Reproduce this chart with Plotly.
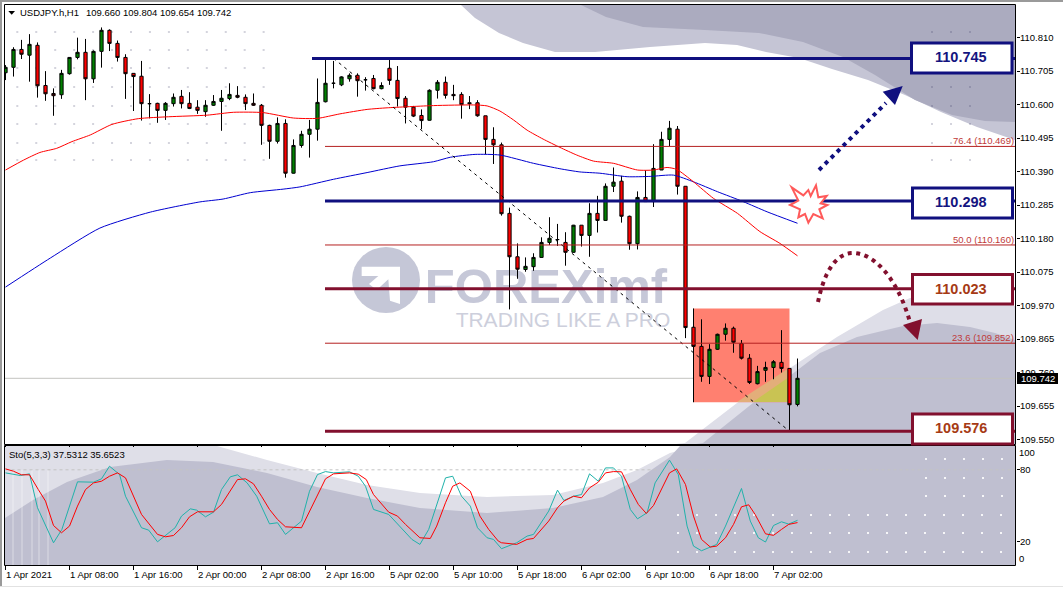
import plotly.graph_objects as go

W, H = 1063, 601
PL, PR, PT, PB = 4, 1016, 4, 565
FONT = "Liberation Sans"

# ---------- data ----------
opens = [110.700,110.717,110.773,110.755,110.786,110.660,110.635,110.631,110.697,110.748,
         110.764,110.681,110.767,110.833,110.792,110.748,110.698,110.689,110.603,110.604,
         110.582,110.603,110.626,110.604,110.592,110.578,110.598,110.610,110.619,110.629,
         110.623,110.604,110.598,110.535,110.485,110.541,110.385,110.472,110.507,110.523,
         110.609,110.667,110.662,110.681,110.692,110.678,110.682,110.650,110.714,110.676,
         110.620,110.592,110.566,110.551,110.645,110.670,110.632,110.632,110.606,110.606,
         110.565,110.491,110.474,110.259,110.123,110.083,110.092,110.121,110.168,110.177,
         110.168,110.137,110.222,110.190,110.259,110.237,110.344,110.360,110.250,110.164,
         110.309,110.296,110.395,110.491,110.523,110.344,109.902,109.842,109.748,109.833,
         109.880,109.899,109.851,109.805,109.725,109.767,109.776,109.792,109.773,109.660]
highs = [110.724,110.780,110.803,110.821,110.795,110.705,110.651,110.709,110.749,110.810,
         110.806,110.770,110.842,110.836,110.801,110.758,110.698,110.737,110.633,110.606,
         110.608,110.635,110.646,110.639,110.614,110.614,110.630,110.646,110.667,110.658,
         110.632,110.635,110.602,110.537,110.560,110.554,110.491,110.518,110.552,110.682,
         110.741,110.737,110.689,110.698,110.698,110.686,110.693,110.670,110.748,110.721,
         110.627,110.596,110.585,110.648,110.677,110.688,110.662,110.639,110.627,110.614,
         110.565,110.529,110.481,110.277,110.165,110.121,110.134,110.184,110.247,110.226,
         110.200,110.223,110.222,110.291,110.314,110.353,110.403,110.377,110.252,110.328,
         110.394,110.476,110.515,110.549,110.533,110.344,109.961,109.927,109.849,109.882,
         109.914,109.904,109.862,109.818,109.781,109.794,109.799,109.893,109.773,109.804]
lows = [110.677,110.688,110.743,110.672,110.622,110.612,110.565,110.618,110.694,110.742,
        110.614,110.668,110.716,110.768,110.735,110.618,110.580,110.550,110.557,110.543,
        110.552,110.594,110.588,110.586,110.571,110.562,110.596,110.518,110.614,110.620,
        110.583,110.596,110.474,110.430,110.478,110.371,110.384,110.465,110.434,110.487,
        110.607,110.651,110.658,110.672,110.625,110.644,110.648,110.648,110.662,110.594,
        110.541,110.561,110.523,110.550,110.619,110.619,110.614,110.556,110.586,110.562,
        110.445,110.414,110.252,109.958,110.054,110.076,110.079,110.120,110.160,110.157,
        110.095,110.136,110.155,110.123,110.199,110.236,110.326,110.230,110.145,110.146,
        110.295,110.279,110.395,110.470,110.318,109.868,109.667,109.731,109.724,109.831,
        109.860,109.822,109.801,109.724,109.723,109.731,109.739,109.760,109.576,109.654]
closes = [110.717,110.773,110.758,110.789,110.659,110.634,110.628,110.698,110.748,110.764,
          110.681,110.767,110.833,110.792,110.748,110.697,110.688,110.603,110.603,110.582,
          110.604,110.623,110.603,110.588,110.582,110.598,110.610,110.620,110.632,110.623,
          110.603,110.598,110.535,110.485,110.541,110.385,110.472,110.507,110.523,110.607,
          110.667,110.667,110.687,110.692,110.675,110.678,110.650,110.660,110.676,110.619,
          110.592,110.564,110.550,110.645,110.670,110.629,110.628,110.600,110.603,110.565,
          110.491,110.474,110.258,110.123,110.084,110.093,110.121,110.168,110.181,110.177,
          110.137,110.222,110.190,110.259,110.237,110.344,110.357,110.250,110.164,110.309,
          110.296,110.400,110.491,110.526,110.344,109.901,109.842,109.748,109.833,109.880,
          109.899,109.855,109.805,109.729,109.763,109.776,109.794,109.773,109.659,109.742]
bars = list(range(100))

ma_red_bar = [0,2.25,4.3,6.4,8.3,10.6,13.3,16.6,20.4,25.2,28.5,32.2,36,39,41.8,45.2,47.7,53.5,58.5,60.2,
              61.8,63.5,65.2,67.2,69.3,71.4,73.5,76,79,81,82.7,83.9,86,88.5,91.5,94.3,96.8,99]
ma_red_val = [110.395,110.426,110.450,110.463,110.484,110.505,110.538,110.556,110.562,110.567,110.576,
              110.575,110.558,110.557,110.571,110.585,110.590,110.597,110.599,110.596,110.580,110.552,
              110.520,110.492,110.466,110.442,110.423,110.416,110.395,110.395,110.403,110.397,110.358,
              110.306,110.259,110.202,110.165,110.126]
ma_blue_bar = [0,5.6,11.8,18.1,24.3,27.2,30.6,34.7,36.8,41,45.2,49.3,53.5,55.6,58.7,61.8,66,69.3,71.8,
               74.3,77.7,80.6,83.5,86,89,92.2,95.2,99]
ma_blue_val = [110.028,110.119,110.213,110.263,110.295,110.304,110.324,110.335,110.342,110.366,110.387,
               110.408,110.421,110.435,110.444,110.442,110.416,110.399,110.389,110.385,110.374,110.375,
               110.379,110.358,110.327,110.296,110.264,110.228]

sto_k_bar = [0,1.84,3,4,6,7.05,9,11,12,13,14.26,15,17,17.9,19,21.2,22,23.1,23.9,25,26,27,28.1,29,30.2,31.4,
             33,34,35,37,38,39,40,41,43,44.1,45,46,47.9,49.3,50.8,51.8,52.9,55,55.9,57,58.1,59,60.2,61,
             62,63.9,65.2,66,67.9,69,69.8,71,72,73,74.1,75,76,77,78.1,79,80.2,81.2,83,84.1,85.2,86,87,
             88.9,90,92,93.1,94.1,95,96,97,97.9,99]
sto_k_val = [77.4,75.2,76.6,48.1,18.7,29.9,69.9,69.6,72.4,83.0,76.0,57.8,31.3,29.3,19.5,31.3,41.1,47.2,46.1,
             40.5,44.4,63.4,74.1,75.8,69.0,57.8,34.6,35.5,25.7,36.9,62.0,76.0,78.5,77.4,78.3,74.6,66.2,46.7,
             42.5,32.7,21.5,17.3,29.9,73.2,74.6,57.8,49.5,31.3,22.9,21.5,13.7,18.7,24.3,25.7,45.3,62.9,54.2,
             57.8,59.2,76.6,70.4,81.6,81.6,74.6,46.7,38.8,43.9,69.0,88.1,76.0,32.7,15.9,12.0,17.3,32.7,64.3,
             36.9,22.9,19.3,33.2,36.3,34.4,37.53]
sto_d_bar = [0,1,2,3,4.1,5,6,7,8,9,10,11,12,13,14,15,17,19,20,21,22,23,24,26,27,29,30,31,32,33,34,35,37,38,
             39,40,41,43,44.1,45.1,46,47.9,49,50,51.8,53.1,53.9,55,55.9,56.8,58.1,59.3,60.4,61.6,62,63.9,65.2,
             66,67.9,69,69.8,71,72,73,74.1,75,76,77,78.1,79.1,80.1,81,83,83.9,85,86,87,88.1,88.9,90,91,92,92.9,
             93.7,95,96,97,97.9,99]
sto_d_val = [80.8,78.8,75.8,75.8,63.4,53.7,33.2,27.1,32.7,49.5,63.4,69.0,70.4,74.6,77.4,73.2,42.5,25.7,23.7,
             24.8,31.3,40.5,44.7,44.7,50.9,71.8,72.4,68.2,57.8,46.7,38.3,32.1,31.3,45.3,59.2,72.4,76.6,77.4,
             76.3,71.8,59.2,44.4,41.1,34.1,22.9,22.3,32.7,52.3,66.2,69.0,62.0,41.1,29.9,20.1,18.7,17.3,21.5,
             22.3,36.9,48.1,53.7,57.8,56.5,64.8,69.6,77.4,78.5,78.3,63.4,50.9,43.3,50.0,77.4,80.8,67.6,41.1,
             21.5,15.1,15.9,22.9,34.1,48.9,50.6,42.5,26.2,24.9,29.9,34.1,35.65]

price_ticks = [110.810,110.705,110.600,110.495,110.390,110.285,110.180,110.075,109.970,109.865,109.760,109.655,109.550]
time_tick_bars = [0,8,16,24,32,40,48,56,64,72,80,88,96]
time_tick_labels = ["1 Apr 2021","1 Apr 08:00","1 Apr 16:00","2 Apr 00:00","2 Apr 08:00","2 Apr 16:00",
                    "5 Apr 02:00","5 Apr 10:00","5 Apr 18:00","6 Apr 02:00","6 Apr 10:00","6 Apr 18:00","7 Apr 02:00"]
fib_levels = [110.469,110.160,109.852]
fib_labels = ["76.4 (110.469)","50.0 (110.160)","23.6 (109.852)"]
navy_levels = [110.745,110.298]
maroon_levels = [110.023,109.576]
last_price = 109.742

NAVY = "#10107F"
MAROON = "#82102E"
MAROON_TXT = "#A63A14"
FIB = "#B52020"
TXT = 9.5

# ---------- pixel helpers for decoration ----------
def xp(px): return (px - PL) / (PR - PL)
def yp(py): return 1 - (py - PT) / (PB - PT)
def path(pts, close=True):
    s = "M" + " L".join(f"{xp(x):.5f},{yp(y):.5f}" for x, y in pts)
    return s + (" Z" if close else "")
def poly(pts, fill, layer="below", line=None, lw=0):
    return dict(type="path", xref="paper", yref="paper", path=path(pts), fillcolor=fill, layer=layer,
                line=dict(color=line or fill, width=lw))
def poly_axis(pts, fill):
    s = "M" + " L".join(f"{(x-5.5)/8:.4f},{110.928-0.003135*y:.4f}" for x, y in pts) + " Z"
    return dict(type="path", xref="x", yref="y", path=s, fillcolor=fill, layer="below", line=dict(width=0))
def rect(x0, y0, x1, y1, **kw):
    return dict(type="rect", xref="paper", yref="paper", x0=xp(x0), x1=xp(x1), y0=yp(y1), y1=yp(y0), **kw)
def hline(x0, x1, y, color, w, layer="above"):
    return dict(type="line", xref="paper", yref="paper", x0=xp(x0), x1=xp(x1), y0=yp(y), y1=yp(y),
                line=dict(color=color, width=w), layer=layer)
def dots(xs, ys, color, s=1.0):
    p = ""
    for x in xs:
        for y in ys:
            p += path([(x-s, y-s), (x+s, y-s), (x+s, y+s), (x-s, y+s)]) + " "
    return dict(type="path", xref="paper", yref="paper", path=p, fillcolor=color, line=dict(width=0), layer="below")

M_L, M_R, M_T, M_B = 5, 1015, 5, 444
S_T, S_B = 446, 565

shapes = []
# main-pane background swooshes
shapes.append(poly([(461,5),(475,18),(499,33),(523,43),(555,52),(595,52),(650,47),(705,43),(737,45),(766,52),
                    (799,58),(832,69),(868,80),(905,95),(941,112),(977,127),(M_R,140),(M_R,M_T)], "#C5C5D5"))
shapes.append(poly([(581,5),(606,17),(643,27),(705,30),(759,33),(803,42),(843,57),(875,75),(915,100),(952,115),
                    (985,121),(M_R,122),(M_R,M_T)], "#ABABBF"))
shapes.append(poly([(676,M_B),(685,443),(737,403),(787,370),(837,337),(883,310),(910,298),(950,295),(985,298),
                    (M_R,306),(M_R,M_B)], "#DEDEE8"))
shapes.append(poly([(696,M_B),(703,443),(753,403),(787,378),(820,353),(857,337),(903,326),(937,323),(970,327),
                    (995,333),(M_R,340),(M_R,M_B)], "#BFBFD0"))
# sub-pane background swooshes
shapes.append(poly([(5,S_T),(217,S_T),(267,460),(317,473),(367,485),(420,493),(487,497),(553,495),(603,483),
                    (637,470),(670,453),(697,S_T),(M_R,S_T),(M_R,S_B),(5,S_B)], "#DFDFE8"))
shapes.append(poly([(5,518),(33,500),(67,482),(110,467),(167,460),(213,462),(267,473),(317,487),(367,498),
                    (420,508),(487,513),(553,508),(603,497),(637,480),(670,457),(680,S_T),(M_R,S_T),(M_R,S_B),(5,S_B)], "#BFBFD0"))
for sx in (13, 22, 32, 39, 48):
    shapes.append(dict(type="line", xref="paper", yref="paper", x0=xp(sx), x1=xp(sx), y0=yp(470), y1=yp(S_B),
                       line=dict(color="rgba(255,255,255,0.45)", width=1), layer="below"))
# textured dots
rows = [32,50,68,87,106,124,143,160]
shapes.append(dots([17.3+18.95*k for k in range(14)], rows, "rgba(60,60,100,0.22)"))
shapes.append(dots([932,951,970], rows, "rgba(60,60,100,0.22)"))
shapes.append(dots([926+19*k for k in range(5)], [459,478,496], "rgba(255,255,255,0.85)"))
shapes.append(dots([678+19*k for k in range(18)], [515,533,552], "rgba(255,255,255,0.85)"))

# watermark
LOGO = "#C5C7D7"
shapes.append(dict(type="circle", xref="paper", yref="paper", x0=xp(352), x1=xp(420), y0=yp(313), y1=yp(247),
                   fillcolor=LOGO, line=dict(width=0), layer="below"))
shapes.append(poly([(345+a/3, 240+b/3) for a, b in [(50,80),(165,80),(165,192),(135,182),(130,118),(95,150),(72,132),(100,108),(50,108)]], "white"))
shapes.append(rect(418, 258, 674, 304, line=dict(width=0), fillcolor="rgba(0,0,0,0)", layer="below",
                   label=dict(text="<b>FOREXimf</b>", font=dict(family=FONT, size=49, color="#C6C8D8"), textposition="middle center")))
shapes.append(rect(450, 307, 676, 327, line=dict(width=0), fillcolor="rgba(0,0,0,0)", layer="below",
                   label=dict(text="TRADING LIKE A PRO", font=dict(family=FONT, size=21, color="#CDCFDC"), textposition="middle center")))

# salmon box with its overlaps and the last price line
shapes.append(dict(type="rect", xref="x", yref="y", x0=86, x1=98, y0=109.667, y1=109.961,
                   fillcolor="#FF8070", line=dict(width=0), layer="below"))
shapes.append(poly_axis([(737,402),(789,368),(789,402)], "#E3AE7A"))
shapes.append(poly_axis([(753,402),(789,377),(789,402)], "#C9C353"))
shapes.append(dict(type="line", xref="paper", x0=xp(M_L), x1=xp(M_R), yref="y", y0=last_price, y1=last_price,
                   line=dict(color="#C4C4C0", width=1), layer="below"))

# fib and level lines
for lv in fib_levels:
    shapes.append(dict(type="line", xref="paper", x0=xp(325), x1=xp(M_R), yref="y", y0=lv, y1=lv,
                       line=dict(color=FIB, width=1), layer="above"))
for i, lv in enumerate(navy_levels):
    shapes.append(dict(type="line", xref="paper", x0=xp(312 if i == 0 else 325), x1=xp(M_R), yref="y", y0=lv, y1=lv,
                       line=dict(color=NAVY, width=3), layer="above"))
for lv in maroon_levels:
    shapes.append(dict(type="line", xref="paper", x0=xp(325), x1=xp(M_R), yref="y", y0=lv, y1=lv,
                       line=dict(color=MAROON, width=3), layer="above"))

# frames
shapes.append(rect(4.5, 4.5, 1015.5, 444.5, line=dict(color="black", width=1), fillcolor="rgba(0,0,0,0)", layer="above"))
shapes.append(rect(4.5, 445.5, 1015.5, 565.5, line=dict(color="black", width=1), fillcolor="rgba(0,0,0,0)", layer="above"))
# outer window edges
shapes.append(hline(0, W, 1, "#9A9A9A", 2))
shapes.append(dict(type="line", xref="paper", yref="paper", x0=xp(1), x1=xp(1), y0=yp(0), y1=yp(586),
                   line=dict(color="#9A9A9A", width=2)))
shapes.append(hline(0, W, 586.5, "#E2E2E2", 1))

# header triangle
shapes.append(poly([(8.3,11),(15,11),(11.7,14.7)], "black", layer="above"))

# arrows
shapes.append(dict(type="line", xref="paper", yref="paper", x0=xp(819), y0=yp(170), x1=xp(886), y1=yp(103),
                   line=dict(color=NAVY, width=4, dash="4px,4.5px")))
shapes.append(poly([(882.7,91.7),(902.7,86),(895,105)], NAVY, layer="above"))
def bez(p0, p1, p2, p3, n=24):
    out = []
    for k in range(n + 1):
        t = k / n
        out.append(tuple((1-t)**3*a + 3*(1-t)**2*t*b + 3*(1-t)*t*t*c + t**3*d for a, b, c, d in zip(p0, p1, p2, p3)))
    return out
arc = bez((818,302),(825,268),(838,253),(853,253))[:-1] + bez((853,253),(875,253),(898,280),(910,322))
shapes.append(dict(type="path", xref="paper", yref="paper", path=path(arc, close=False),
                   line=dict(color=MAROON, width=4, dash="4px,4.5px"), fillcolor="rgba(0,0,0,0)"))
shapes.append(poly([(903,325),(922,319),(917.7,340)], MAROON, layer="above"))
# burst
star = [(695,232),(730,256),(745,240),(752,258),(768,226),(775,262),(800,258),(782,280),(802,285),(778,298),
        (788,325),(760,312),(745,338),(735,312),(715,322),(720,298),(690,285),(715,272)]
shapes.append(poly([(560+a/3, 110+b/3) for a, b in star], "white", layer="above", line="#FF5A5A", lw=2))

# level boxes
boxes = [(911.5,43,1012,73,NAVY),(912.5,188,1012.5,218,NAVY),(912.5,274.5,1012.5,304,MAROON),(912.5,414,1012.5,444,MAROON)]
for x0, y0, x1, y1, c in boxes:
    shapes.append(rect(x0, y0, x1, y1, line=dict(color=c, width=3), fillcolor="white", layer="above"))
shapes.append(rect(1017, 373, 1058, 384, line=dict(width=0), fillcolor="black", layer="above"))

# ---------- text ----------
ann = []
def text(px, py, s, size=TXT, color="black", anchor="left"):
    ann.append(dict(xref="paper", yref="paper", x=xp(px), y=yp(py), text=s, showarrow=False, xanchor=anchor,
                    yanchor="middle", font=dict(family=FONT, size=size, color=color), borderpad=0, borderwidth=0))
text(20, 12.5, "USDJPY.h,H1")
text(85.5, 12.5, "109.660 109.804 109.654 109.742")
text(9, 454.5, "Sto(5,3,3) 37.5312 35.6523")
for lv, lab, py in zip(fib_levels, fib_labels, (140.5, 239.5, 337.5)):
    text(1014, py, lab, color="#C03A3A", anchor="right")
for s, cy, c in [("<b>110.745</b>",57,"#14147F"),("<b>110.298</b>",202,"#14147F"),("<b>110.023</b>",289,MAROON_TXT),("<b>109.576</b>",428,MAROON_TXT)]:
    text(961, cy, s, size=14.5, color=c, anchor="center")
text(1037.5, 378.5, "109.742", size=9.5, color="white", anchor="center")
text(1019, 452.3, "100")
text(1019, 558.3, "0")
for b, lab in zip(time_tick_bars, time_tick_labels):
    ann.append(dict(xref="x2", yref="paper", x=b, y=yp(574.5), text=lab, showarrow=False, xanchor="left", yanchor="middle",
                    font=dict(family=FONT, size=TXT, color="black"), xshift=-2))

# ---------- traces ----------
fig = go.Figure()
fig.add_trace(go.Candlestick(x=bars, open=opens, high=highs, low=lows, close=closes, xaxis="x", yaxis="y",
                             increasing=dict(fillcolor="#008000", line=dict(color="black", width=1)),
                             decreasing=dict(fillcolor="#FF0000", line=dict(color="black", width=1)),
                             whiskerwidth=0, hoverinfo="skip", showlegend=False))
fig.add_trace(go.Scatter(x=ma_blue_bar, y=ma_blue_val, mode="lines", line=dict(color="#0000D0", width=1, shape="spline", smoothing=0.6), xaxis="x", yaxis="y", hoverinfo="skip", showlegend=False))
fig.add_trace(go.Scatter(x=ma_red_bar, y=ma_red_val, mode="lines", line=dict(color="#FF0000", width=1, shape="spline", smoothing=0.6), xaxis="x", yaxis="y", hoverinfo="skip", showlegend=False))
fig.add_trace(go.Scatter(x=[41, 98], y=[110.745, 109.576], mode="lines", line=dict(color="black", width=1, dash="3px,4px"), xaxis="x", yaxis="y", hoverinfo="skip", showlegend=False))
fig.add_trace(go.Scatter(x=[0, 100 + 26.3], y=[80, 80], mode="lines", line=dict(color="#C4C4C4", width=1, dash="3px,3px"), xaxis="x2", yaxis="y2", hoverinfo="skip", showlegend=False))
fig.add_trace(go.Scatter(x=sto_k_bar, y=sto_k_val, mode="lines", line=dict(color="#20B2AA", width=1), xaxis="x2", yaxis="y2", hoverinfo="skip", showlegend=False))
fig.add_trace(go.Scatter(x=sto_d_bar, y=sto_d_val, mode="lines", line=dict(color="#FF0000", width=1), xaxis="x2", yaxis="y2", hoverinfo="skip", showlegend=False))

xr = [-0.1875, 126.3125]
tick = dict(family=FONT, size=TXT, color="black")
fig.update_layout(
    width=W, height=H, margin=dict(l=PL, r=W-PR, t=PT, b=H-PB), autosize=False,
    paper_bgcolor="white", plot_bgcolor="white", showlegend=False, boxgap=0.42,
    xaxis=dict(domain=[0,1], range=xr, anchor="y", rangeslider=dict(visible=False), tickmode="array", tickvals=time_tick_bars,
               ticks="outside", ticklen=2, tickcolor="black", showticklabels=False, showgrid=False, zeroline=False),
    xaxis2=dict(domain=[0,1], range=xr, anchor="y2", tickmode="array", tickvals=time_tick_bars,
                ticks="outside", ticklen=4, tickcolor="black", showticklabels=False, showgrid=False, zeroline=False),
    yaxis=dict(domain=[(PB-444)/(PB-PT),1], range=[109.536,110.9155], side="right", anchor="x", tickmode="array",
               tickvals=price_ticks, ticktext=[f"{v:.3f}" for v in price_ticks], ticks="outside", ticklen=3, tickcolor="black",
               ticklabelstandoff=-2, tickfont=tick, showgrid=False, zeroline=False),
    yaxis2=dict(domain=[0,(PB-446)/(PB-PT)], range=[0,100], side="right", anchor="x2", tickmode="array",
                tickvals=[20,80], ticktext=["20","80"], ticks="outside", ticklen=3, tickcolor="black",
                ticklabelstandoff=-2, tickfont=tick, showgrid=False, zeroline=False),
    shapes=shapes, annotations=ann,
)
fig.write_html("out.html", config={"displayModeBar": False},
               post_script="document.body.style.margin='0';document.documentElement.style.overflow='hidden';")
